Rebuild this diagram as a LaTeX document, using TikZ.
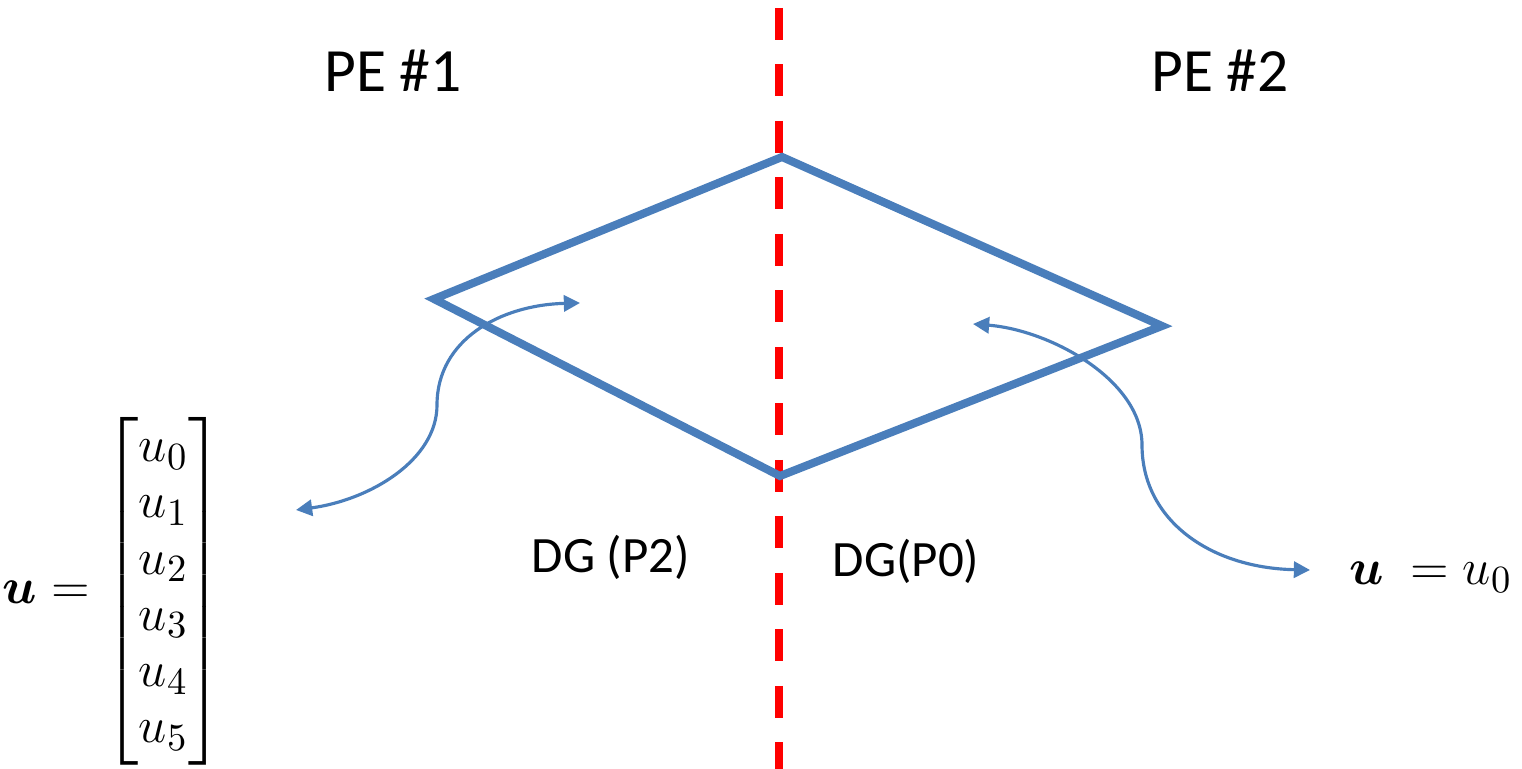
\documentclass[tikz,border=0pt]{standalone}
\usepackage{amsmath,amssymb}
\usepackage{fontspec}
\setmainfont{Carlito}
\usepackage{xcolor}
\usetikzlibrary{arrows.meta}
\definecolor{dgblue}{RGB}{74,126,187}

\begin{document}
\begin{tikzpicture}[x=1cm,y=1cm,
  cell/.style={draw=dgblue,line width=2.3pt,line join=miter},
  cut/.style={draw=red,line width=2pt,dash pattern=on 0.32cm off 0.245cm},
  swap/.style={draw=dgblue,line width=0.9pt,{Triangle[length=4.6pt,width=4.6pt]}-{Triangle[length=4.6pt,width=4.6pt]}},
  pe/.style={font=\fontsize{17.5}{20}\selectfont,anchor=base,inner sep=0pt},
  dg/.style={font=\fontsize{14.5}{17}\selectfont,anchor=base,inner sep=0pt},
  vec/.style={font=\fontsize{15}{16}\selectfont,inner sep=0pt}]
\useasboundingbox (0,0) rectangle (15.22,7.69);
\def\xc{7.79}   % partition line
% partition between the two PEs
\coordinate (cuttop) at (\xc,7.61);
\coordinate (cutbot) at (\xc,0);
\draw[cut] (cuttop) -- (cutbot);
% the element
\coordinate (top) at (7.82,6.12);
\coordinate (left) at (4.34,4.70);
\coordinate (bot) at (7.80,2.93);
\coordinate (right) at (11.62,4.43);
\draw[cell] (left) -- (top) -- (right) -- (bot) -- cycle;
\node[pe] (pe1) at (3.93,6.77) {PE \#1};
\node[pe] (pe2) at (12.20,6.77) {PE \#2};
\node[dg] (dg2) at (6.11,1.96) {DG (P2)};
\node[dg] (dg0) at (9.06,1.92) {DG(P0)};
% solution vectors
\node[vec] (ufull) at (1.13,1.78) {$\boldsymbol{u}=\begin{bmatrix}u_0\\ u_1\\ u_2\\ u_3\\ u_4\\ u_5\end{bmatrix}$};
\node[vec,anchor=base] (uone) at (14.31,1.84) {$\boldsymbol{u}\ =u_0$};
% links
\coordinate (la) at (2.96,2.59);
\coordinate (lm) at (4.37,3.64);
\coordinate (lb) at (5.80,4.66);
\draw[swap] (la) .. controls (3.70,2.69) and (4.37,3.09) .. (lm)
  .. controls (4.37,4.29) and (5.00,4.64) .. (lb);
\coordinate (ra) at (9.73,4.45);
\coordinate (rm) at (11.42,3.24);
\coordinate (rb) at (13.10,1.99);
\draw[swap] (ra) .. controls (10.50,4.39) and (11.42,3.89) .. (rm)
  .. controls (11.42,2.49) and (12.10,2.01) .. (rb);
\end{tikzpicture}
\end{document}
